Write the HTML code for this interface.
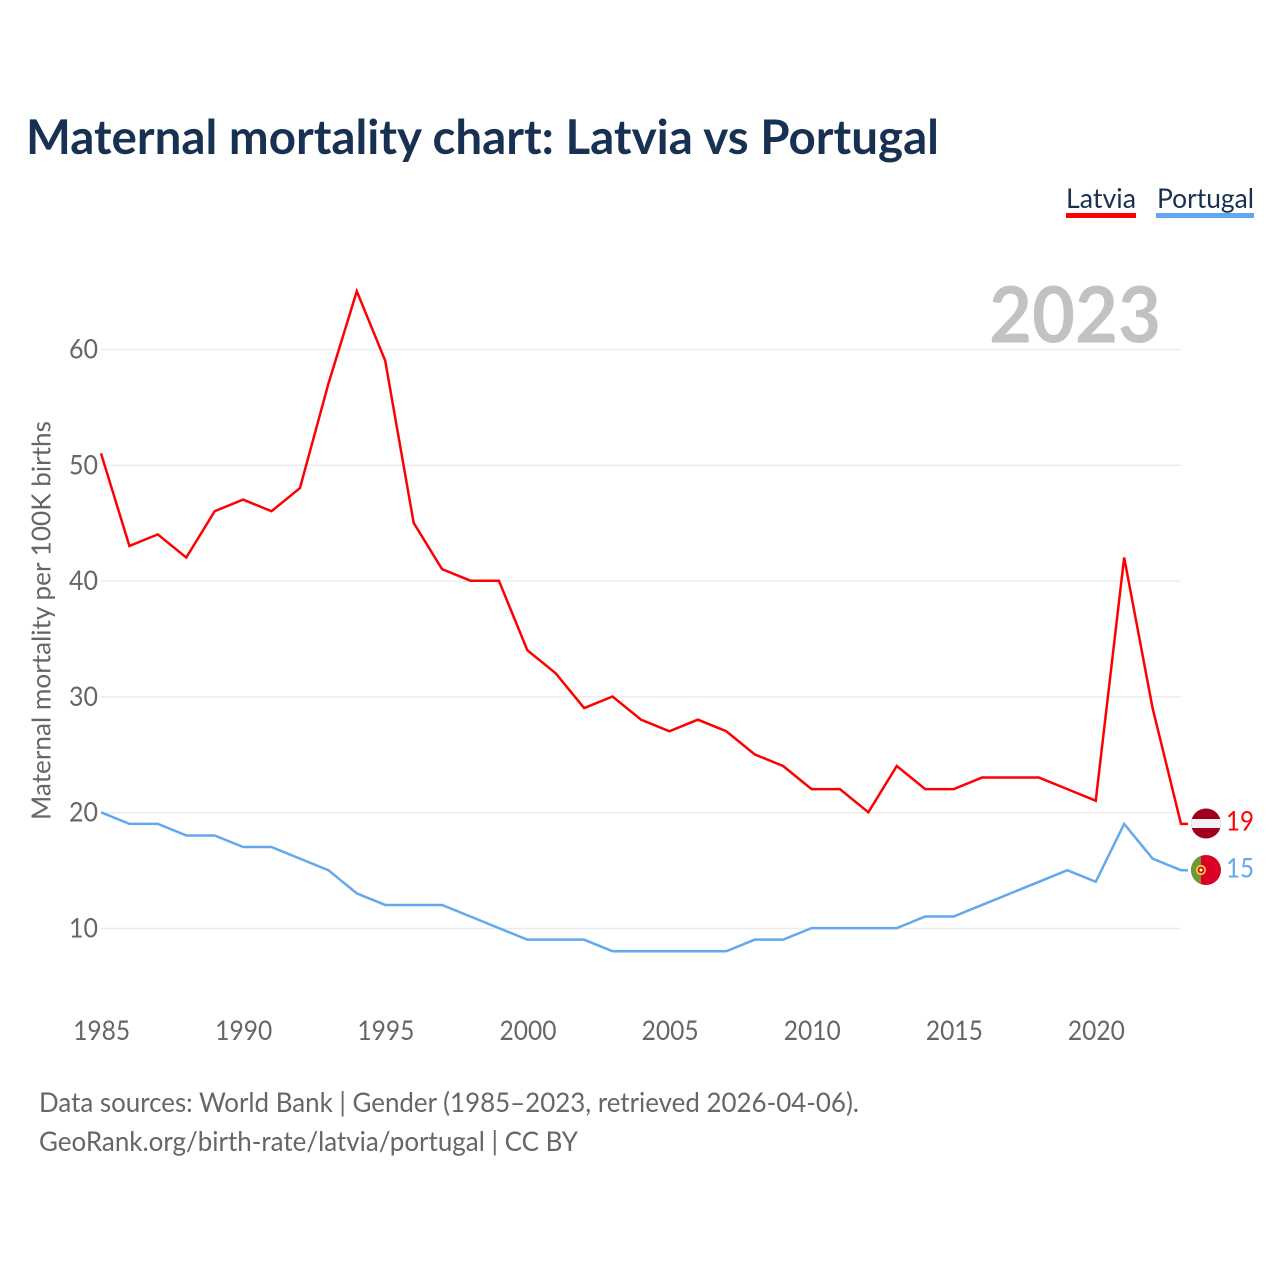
<!DOCTYPE html>
<html lang="en">
<head>
<meta charset="utf-8">
<title>Maternal mortality chart: Latvia vs Portugal</title>
<style>
html,body{margin:0;padding:0;background:#fff;}
svg{display:block;}
text{font-family:"Lato","Carlito","Liberation Sans",sans-serif;}
</style>
</head>
<body>
<svg id="chart" xmlns="http://www.w3.org/2000/svg" width="1280" height="1280" viewBox="0 0 1280 1280">
  <rect x="0" y="0" width="1280" height="1280" fill="#ffffff"/>
  <text x="26" y="154" font-size="48" font-weight="700" fill="#183153" textLength="913" lengthAdjust="spacingAndGlyphs">Maternal mortality chart: Latvia vs Portugal</text>

  <g>
    <text x="1066" y="208" font-size="27.5" fill="#183153" textLength="70" lengthAdjust="spacingAndGlyphs">Latvia</text>
    <rect x="1066" y="213" width="70" height="5" fill="#ff0000"/>
  </g>
  <g>
    <text x="1157" y="208" font-size="27.5" fill="#183153" textLength="97" lengthAdjust="spacingAndGlyphs">Portugal</text>
    <rect x="1156" y="213" width="98" height="5" fill="#63a8ee"/>
  </g>

  <g id="grid"></g>
  <g id="yticks"></g>
  <g id="xticks"></g>

  <text x="1161" y="342.5" text-anchor="end" font-size="78" font-weight="700" fill="#c2c2c2" textLength="172" lengthAdjust="spacingAndGlyphs">2023</text>

  <text transform="translate(50.5,820) rotate(-90)" font-size="26" fill="#666666" textLength="399" lengthAdjust="spacingAndGlyphs">Maternal mortality per 100K births</text>

  <g id="lines"></g>

  <g>
    <clipPath id="clip-lv"><circle cx="1206" cy="823.5" r="15"/></clipPath>
    <g clip-path="url(#clip-lv)">
      <rect x="1191" y="808" width="30" height="31" fill="#a0001e"/>
      <rect x="1191" y="819" width="30" height="9" fill="#f2f2f2"/>
    </g>
  </g>
  <g>
    <clipPath id="clip-pt"><circle cx="1206" cy="870" r="15"/></clipPath>
    <g clip-path="url(#clip-pt)">
      <rect x="1191" y="855" width="30" height="30" fill="#da0026"/>
      <rect x="1191" y="855" width="10" height="30" fill="#6a9a3a"/>
    </g>
    <circle cx="1201" cy="870" r="4.2" fill="#da0026" stroke="#f5d020" stroke-width="1.8"/>
    <circle cx="1201" cy="870" r="1.5" fill="#ffffff"/>
  </g>

  <text x="1226" y="830.5" font-size="27.5" fill="#ff0000" textLength="28" lengthAdjust="spacingAndGlyphs">19</text>
  <text x="1226" y="877.5" font-size="27.5" fill="#63a8ee" textLength="28" lengthAdjust="spacingAndGlyphs">15</text>

  <text x="39" y="1112" font-size="27.5" fill="#666666" textLength="820" lengthAdjust="spacingAndGlyphs">Data sources: World Bank | Gender (1985–2023, retrieved 2026-04-06).</text>
  <text x="39" y="1151" font-size="27.5" fill="#666666" textLength="539" lengthAdjust="spacingAndGlyphs">GeoRank.org/birth-rate/latvia/portugal | CC BY</text>
</svg>
<script>
const startYear = 1985;
const latvia = [51,43,44,42,46,47,46,48,57,65,59,45,41,40,40,34,32,29,30,28,27,28,27,25,24,22,22,20,24,22,22,23,23,23,22,21,42,29,19];
const portugal = [20,19,19,18,18,17,17,16,15,13,12,12,12,11,10,9,9,9,8,8,8,8,8,9,9,10,10,10,10,11,11,12,13,14,15,14,19,16,15];
const yTicks = [10,20,30,40,50,60];
const xTicks = [1985,1990,1995,2000,2005,2010,2015,2020];

const NS = 'http://www.w3.org/2000/svg';
const xOf = function (year) { return 101 + (year - 1985) * (1080 / 38); };
const yOf = function (v) { return 928.5 - (v - 10) * 11.58; };

function make(tag, parent, attrs, txt) {
  const el = document.createElementNS(NS, tag);
  for (const k in attrs) el.setAttribute(k, attrs[k]);
  if (txt !== undefined) el.textContent = txt;
  parent.appendChild(el);
  return el;
}

const grid = document.getElementById('grid');
const yG = document.getElementById('yticks');
const xG = document.getElementById('xticks');
const linesG = document.getElementById('lines');

yTicks.forEach(function (t) {
  const ln = make('line', grid, {x1: 101, x2: 1181, y1: yOf(t), y2: yOf(t), stroke: '#ececec', 'stroke-width': 1.5});
  
  
  const lb = make('text', yG, {x: 98, y: yOf(t) + 9, 'text-anchor': 'end', 'font-size': 27.5, fill: '#666666', textLength: 29, lengthAdjust: 'spacingAndGlyphs'}, String(t));
  
  
});

xTicks.forEach(function (t) {
  const lb = make('text', xG, {x: xOf(t) + 0.7, y: 1040, 'text-anchor': 'middle', 'font-size': 27.5, fill: '#666666', textLength: 57, lengthAdjust: 'spacingAndGlyphs'}, String(t));
  
  
});

function drawSeries(values, color, name) {
  let d = '';
  values.forEach(function (v, i) {
    d += (i ? 'L' : 'M') + xOf(startYear + i).toFixed(2) + ' ' + (yOf(v) - 0.4).toFixed(2);
  });
  const lastY = yOf(values[values.length - 1]) - 0.4;
  d += 'L' + (xOf(startYear + values.length - 1) + 7).toFixed(2) + ' ' + lastY.toFixed(2);
  const p = make('path', linesG, {d: d, fill: 'none', stroke: color, 'stroke-width': 2.5, 'stroke-linejoin': 'miter'});
  
  
}

drawSeries(portugal, '#63a8ee', 'portugal');
drawSeries(latvia, '#ff0000', 'latvia');
</script>
</body>
</html>
